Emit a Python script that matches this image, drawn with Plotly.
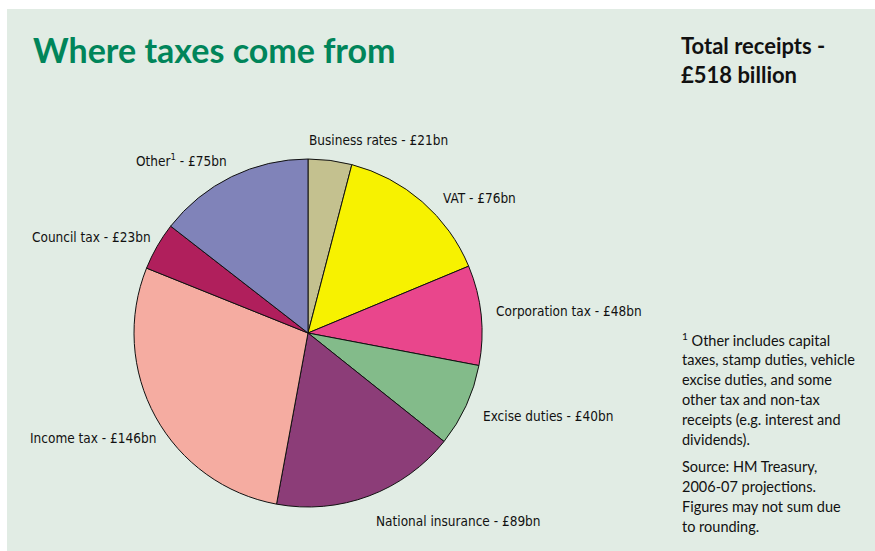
import plotly.graph_objects as go

# ---- data ----
categories = ["Business rates", "VAT", "Corporation tax", "Excise duties",
              "National insurance", "Income tax", "Council tax", "Other<sup>1</sup>"]
values_bn = [21, 76, 48, 40, 89, 146, 23, 75]
slice_colors = ["#c4c18f", "#f7f200", "#e9468c", "#83bb8a",
                "#8c3d78", "#f5aca1", "#b01f5c", "#8083b9"]

title_text = "Where taxes come from"
footnote_lines = ["<sup>1</sup> Other includes capital",
                  "taxes, stamp duties, vehicle",
                  "excise duties, and some",
                  "other tax and non-tax",
                  "receipts (e.g. interest and",
                  "dividends)."]
source_lines = ["Source: HM Treasury,",
                "2006-07 projections.",
                "Figures may not sum due",
                "to rounding."]

W, H = 875, 551
BG = "#e1ece4"

fig = go.Figure()

# pie: centre (308,333) px, radius 174 px
cx, cy, r = 308, 333, 174
fig.add_trace(go.Pie(
    labels=categories,
    values=values_bn,
    sort=False,
    direction="clockwise",
    rotation=0,
    marker=dict(colors=slice_colors, line=dict(color="#111111", width=1)),
    textinfo="none",
    hoverinfo="label+value",
    showlegend=False,
    domain=dict(x=[(cx - r) / W, (cx + r) / W],
                y=[1 - (cy + r) / H, 1 - (cy - r) / H]),
))

label_font = dict(family="DejaVu Sans Condensed, Liberation Sans Narrow, sans-serif",
                  size=13.5, color="#111111")
# label anchor positions (left x, middle y) in pixels
label_pos = [(307, 140), (441, 198), (494, 311), (481, 416),
             (374, 521), (28, 438), (30, 237), (134, 160)]

annotations = []
for name, v, (px, py) in zip(categories, values_bn, label_pos):
    annotations.append(dict(
        text=f"{name} - £{v}bn", x=px / W, y=1 - py / H, xref="paper", yref="paper",
        xanchor="left", yanchor="middle", showarrow=False, font=label_font))

annotations.append(dict(
    text=f"<b>{title_text}</b>", x=31 / W, y=1 - 49 / H, xref="paper", yref="paper",
    xanchor="left", yanchor="middle", showarrow=False,
    font=dict(family="Lato, sans-serif", size=34, color="#00855a")))

total = sum(values_bn)
for i, line in enumerate(["Total receipts -", f"£{total} billion"]):
    annotations.append(dict(
        text=f"<b>{line}</b>", x=679 / W, y=1 - (46 + 28 * i) / H, xref="paper", yref="paper",
        xanchor="left", yanchor="middle", showarrow=False,
        font=dict(family="Lato, sans-serif", size=22, color="#111111")))

note_font = dict(family="Lato, sans-serif", size=14.5, color="#111111")
for i, line in enumerate(footnote_lines):
    annotations.append(dict(
        text=line, x=680 / W, y=1 - (339 + 20 * i) / H, xref="paper", yref="paper",
        xanchor="left", yanchor="middle", showarrow=False, font=note_font))
for i, line in enumerate(source_lines):
    annotations.append(dict(
        text=line, x=680 / W, y=1 - (466 + 20 * i) / H, xref="paper", yref="paper",
        xanchor="left", yanchor="middle", showarrow=False, font=note_font))

fig.update_layout(
    width=W, height=H,
    margin=dict(l=0, r=0, t=0, b=0),
    paper_bgcolor="white",
    plot_bgcolor="white",
    annotations=annotations,
    shapes=[dict(type="rect", xref="paper", yref="paper",
                 x0=7 / W, x1=1, y0=0, y1=1 - 9 / H,
                 fillcolor=BG, line=dict(width=0), layer="below")],
)

fig.write_html("out.html", config={"displayModeBar": False},
               post_script="document.body.style.margin='0';document.body.style.overflow='hidden';")
